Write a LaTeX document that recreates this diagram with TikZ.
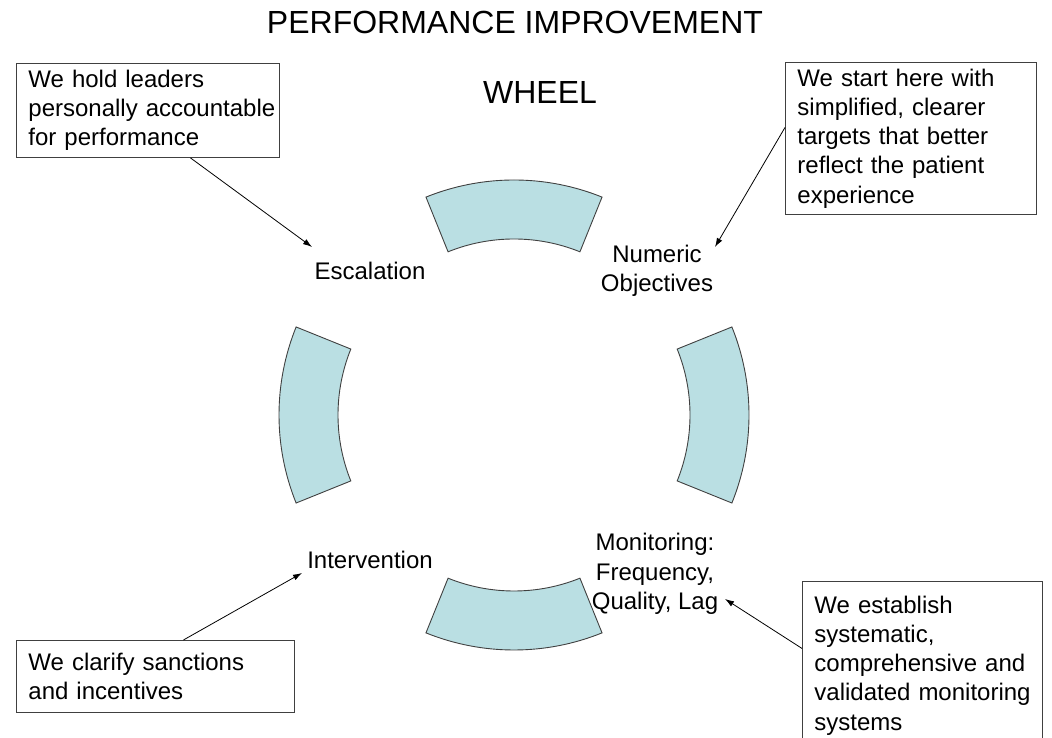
\documentclass[tikz,border=0pt]{standalone}
\usepackage{fontspec}
\setmainfont{Liberation Sans}
\usetikzlibrary{positioning,arrows.meta}
\definecolor{wheelfill}{RGB}{186,223,227}
\definecolor{wheeledge}{RGB}{64,64,64}

\begin{document}
\begin{tikzpicture}[x=1pt,y=1pt,on grid,>={Latex[length=9pt,width=6pt]},
	stage/.style={align=center,inner sep=0pt,font=\fontsize{24}{29.3}\selectfont},
	remark/.style={draw=wheeledge,line width=0.9pt,anchor=north west,inner xsep=2pt,inner ysep=0pt,
		font=\fontsize{24}{29.3}\selectfont,execute at begin node={\leftskip=10pt\rightskip=0pt plus 1fill}},
	heading/.style={inner sep=0pt,font=\fontsize{32}{38}\selectfont},
	segment/.style={draw=wheeledge,line width=0.9pt,fill=wheelfill},
	pointer/.style={->,line width=0.8pt}]
		\clip (0,0) rectangle (1052,738);
		\node[heading] (top) at (515,716) {PERFORMANCE IMPROVEMENT};
		\node[heading] (wheel) at (540,645) {WHEEL};
		\coordinate (c) at (514,323);
		\foreach \a in {0,90,180,270}
			\draw[segment] ([shift={(\a-22:235pt)}]c) arc[start angle=\a-22,end angle=\a+22,radius=235pt]
				-- ([shift={(\a+22:176pt)}]c) arc[start angle=\a+22,end angle=\a-22,radius=176pt] -- cycle;
		\node[stage] (esc) at ([shift={(-144,144)}]c) {Escalation};
		\node[stage] (num) at ([shift={(143,144.5)}]c) {Numeric\\Objectives};
		\node[stage] (int) at ([shift={(-144,-145)}]c) {Intervention};
		\node[stage] (mon) at ([shift={(141,-159)}]c) {Monitoring:\\Frequency,\\Quality, Lag};
		\coordinate[above left=24pt and 58pt of esc] (t1);
		\coordinate[above right=23.5pt and 58pt of num] (t2);
		\coordinate[below left=13pt and 68pt of int] (t3);
		\coordinate[below right=25pt and 70pt of mon] (t4);
		\node[remark,text width=259pt,minimum height=94pt] (b1) at (16,675) {We hold leaders\\personally accountable\\for performance};
			\path[pointer] ([xshift=42.5pt]b1.south) edge (t1);
		\node[remark,text width=247pt,minimum height=152pt] (b2) at (785,676) {We start here with\\simplified, clearer\\targets that better\\reflect the patient\\experience};
			\path[pointer] ([yshift=11pt]b2.west) edge (t2);
		\node[remark,text width=274pt,minimum height=72pt] (b3) at (16,98) {We clarify sanctions\\and incentives};
			\path[pointer] ([xshift=28pt]b3.north) edge (t3);
		\node[remark,text width=236pt,minimum height=168pt] (b4) at (802,157) {We establish\\systematic,\\comprehensive and\\validated monitoring\\systems};
			\path[pointer] ([yshift=17pt]b4.west) edge (t4);
\end{tikzpicture}
\end{document}
